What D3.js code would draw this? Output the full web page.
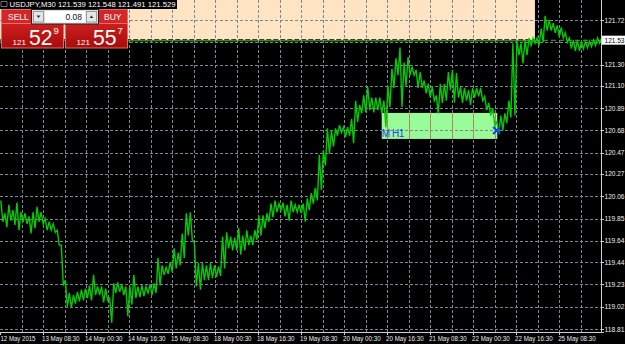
<!DOCTYPE html>
<html><head><meta charset="utf-8">
<script src="https://cdn.jsdelivr.net/npm/d3@7"></script>
<style>
html,body{margin:0;padding:0;background:#000;overflow:hidden}
svg{display:block}
text{font-family:"Liberation Sans",Arial,sans-serif}
</style></head><body>
<svg id="c" width="625" height="344"></svg>
<script>
// ---------------- data ----------------
const symbol = "USDJPY,M30";
const ohlc = [121.539, 121.548, 121.491, 121.529];
const bidPrice = 121.529;
const sellPrice = ["121", "52", "9"];
const buyPrice = ["121", "55", "7"];
const lotSize = "0.08";

const priceTicks = [118.81,119.02,119.23,119.44,119.64,119.85,120.06,120.27,120.47,120.68,120.89,121.10,121.30,121.51,121.72];
const timeLabels = ["12 May 2015","13 May 08:30","14 May 00:30","14 May 16:30","15 May 08:30","18 May 00:30","18 May 16:30","19 May 08:30","20 May 00:30","20 May 16:30","21 May 08:30","22 May 00:30","22 May 16:30","25 May 08:30"];
const barsPerLabel = 32;   // M30 bars between labels (16 hours)
const barsPerGrid = 16;
const totalBars = 447;
const barsPerStep = 3;     // each high/low pair below covers 3 bars

const highs = [120.02,119.90,119.98,119.93,120.00,119.91,119.90,119.87,119.91,119.96,119.91,119.85,119.82,119.80,119.74,119.60,119.27,119.15,119.13,119.16,
119.18,119.19,119.22,119.32,119.21,119.21,119.19,119.10,119.24,119.25,119.23,119.21,119.22,119.32,119.21,119.22,119.21,119.23,119.24,119.48,
119.41,119.39,119.44,119.57,119.53,119.71,119.90,119.91,119.62,119.43,119.43,119.41,119.43,119.41,119.40,119.68,119.72,119.68,119.67,119.76,
119.69,119.74,119.69,119.74,119.88,119.88,119.90,119.99,120.02,119.99,120.00,119.98,120.02,119.98,119.98,119.99,120.04,120.09,120.14,120.45,
120.49,120.70,120.68,120.70,120.73,120.71,120.71,120.79,120.96,120.92,121.01,121.09,120.99,120.99,120.99,120.96,121.10,121.26,121.36,121.46,
121.32,121.37,121.28,121.25,121.23,121.15,121.12,121.09,121.01,121.12,121.12,121.23,121.25,121.22,121.09,121.08,121.06,121.08,121.08,121.08,
121.00,120.94,120.89,120.76,120.82,120.84,120.96,121.50,121.53,121.50,121.53,121.55,121.55,121.55,121.64,121.76,121.72,121.69,121.67,121.65,
121.60,121.55,121.53,121.53,121.51,121.52,121.52,121.53,121.55,121.55];
const lows = [119.82,119.77,119.83,119.79,119.74,119.82,119.80,119.71,119.76,119.82,119.80,119.74,119.74,119.72,119.60,119.22,119.02,119.01,119.05,119.07,
119.08,119.10,119.08,119.13,119.13,119.06,119.08,118.87,119.15,119.16,119.13,118.93,119.04,119.10,119.11,119.12,119.15,119.13,119.15,119.22,
119.32,119.33,119.35,119.38,119.41,119.48,119.69,119.65,119.21,119.18,119.27,119.27,119.29,119.30,119.31,119.38,119.57,119.55,119.55,119.51,
119.55,119.60,119.60,119.65,119.69,119.76,119.82,119.86,119.91,119.93,119.87,119.83,119.91,119.91,119.90,119.82,119.93,119.99,120.02,120.12,
120.35,120.46,120.53,120.63,120.66,120.62,120.63,120.56,120.76,120.84,120.85,120.87,120.85,120.87,120.84,120.71,120.90,121.08,121.20,120.90,
121.10,121.20,121.20,121.08,121.08,121.03,120.99,120.96,120.84,120.94,120.96,121.06,120.94,120.99,120.94,120.96,120.92,120.99,121.00,120.96,
120.87,120.82,120.73,120.66,120.68,120.75,120.80,120.82,121.39,121.31,121.39,121.48,121.50,121.48,121.51,121.62,121.62,121.60,121.56,121.55,
121.51,121.45,121.43,121.43,121.45,121.46,121.47,121.48,121.50,121.53];

// chart objects (time in bars, price)
const bisqueZone = {t0: -5, t1: 398, p0: 121.531, p1: 122.5};
const greenZone = {t0: 284, t1: 370, p0: 120.60, p1: 120.845, label: "M H1"};
const crossMark = {t: 369.5, p: 120.68};

// ---------------- drawing ----------------
const W = 625, H = 344;
const plotR = 601, plotB = 332;
const svg = d3.select("#c");
svg.append("rect").attr("width", W).attr("height", H).attr("fill", "#000");

const x = d3.scaleLinear().domain([0, totalBars]).range([0, 600.8]);
const y = d3.scaleLinear().domain([118.81, 121.72]).range([329, 20]);
const fmt = d3.format(".2f");
const gridCol = "#778899";

const defs = svg.append("defs");
defs.append("clipPath").attr("id", "plotclip").append("rect")
  .attr("x", 0).attr("y", 0).attr("width", plotR).attr("height", plotB);
const g = svg.append("g").attr("clip-path", "url(#plotclip)");

// background objects
g.append("rect").attr("x", x(bisqueZone.t0)).attr("y", y(bisqueZone.p1))
  .attr("width", x(bisqueZone.t1) - x(bisqueZone.t0))
  .attr("height", y(bisqueZone.p0) - y(bisqueZone.p1)).attr("fill", "#FFE4C4");
g.append("rect").attr("x", x(greenZone.t0)).attr("y", y(greenZone.p1))
  .attr("width", x(greenZone.t1) - x(greenZone.t0))
  .attr("height", y(greenZone.p0) - y(greenZone.p1)).attr("fill", "#98FB98");

// grid
const vGrid = d3.range(barsPerGrid, totalBars, barsPerGrid);
g.selectAll(".vg").data(vGrid).join("line")
  .attr("x1", d => Math.round(x(d)) + 0.5).attr("x2", d => Math.round(x(d)) + 0.5)
  .attr("y1", 0).attr("y2", plotB)
  .attr("stroke", gridCol).attr("stroke-width", 1).attr("stroke-dasharray", "3,2");
// grid lines crossing the green zone appear orange
g.selectAll(".vgo").data(vGrid.filter(d => d > greenZone.t0 && d < greenZone.t1)).join("line")
  .attr("x1", d => Math.round(x(d)) + 0.5).attr("x2", d => Math.round(x(d)) + 0.5)
  .attr("y1", y(greenZone.p1)).attr("y2", y(greenZone.p0))
  .attr("stroke", "#e8803a").attr("stroke-width", 1).attr("stroke-dasharray", "3,2");
g.selectAll(".hg").data(priceTicks).join("line")
  .attr("x1", 0).attr("x2", plotR)
  .attr("y1", d => Math.round(y(d)) + 0.5).attr("y2", d => Math.round(y(d)) + 0.5)
  .attr("stroke", gridCol).attr("stroke-width", 1).attr("stroke-dasharray", "3,2");

// zone bottom edge + bid line
g.append("line").attr("x1", x(bisqueZone.t0)).attr("x2", x(bisqueZone.t1))
  .attr("y1", y(bidPrice) + 0.5).attr("y2", y(bidPrice) + 0.5)
  .attr("stroke", "#33cc33").attr("stroke-width", 1);
g.append("line").attr("x1", x(bisqueZone.t0)).attr("x2", x(bisqueZone.t1))
  .attr("y1", y(bidPrice) - 0.7).attr("y2", y(bidPrice) - 0.7)
  .attr("stroke", "#3a2a1a").attr("stroke-width", 1).attr("stroke-dasharray", "5,2");
g.append("line").attr("x1", x(bisqueZone.t1)).attr("x2", plotR)
  .attr("y1", y(bidPrice)).attr("y2", y(bidPrice))
  .attr("stroke", "#33bb33").attr("stroke-width", 1).attr("stroke-dasharray", "5,3");

// price line (high/low zigzag)
const pts = [];
highs.forEach((h, k) => {
  pts.push([barsPerStep * k + 0.6, h]);
  pts.push([barsPerStep * k + 2.1, lows[k]]);
});
const line = d3.line().x(d => x(d[0])).y(d => y(d[1]));
g.append("path").datum(pts).attr("d", line)
  .attr("fill", "none").attr("stroke", "#00cc00").attr("stroke-width", 1.4)
  .attr("stroke-linejoin", "miter");

// zone label and cross
g.append("text").attr("x", x(greenZone.t0)).attr("y", y(greenZone.p0) - 2)
  .attr("font-size", 10).attr("letter-spacing", -0.4).attr("fill", "#2244ee").text(greenZone.label);
const cx = x(crossMark.t), cy = y(crossMark.p);
g.append("path").attr("d", `M${cx-3.5},${cy-3.5}L${cx+3.5},${cy+3.5}M${cx-3.5},${cy+3.5}L${cx+3.5},${cy-3.5}`)
  .attr("stroke", "#1a3cf0").attr("stroke-width", 2);

// axes
svg.append("line").attr("x1", plotR + 0.5).attr("x2", plotR + 0.5).attr("y1", 0).attr("y2", plotB + 1)
  .attr("stroke", "#d0d0d0");
svg.append("line").attr("x1", 0).attr("x2", plotR + 3).attr("y1", plotB + 0.5).attr("y2", plotB + 0.5)
  .attr("stroke", "#d0d0d0");
const yBid = y(bidPrice);
const pt = svg.append("g");
pt.selectAll("line").data(priceTicks).join("line")
  .attr("x1", plotR).attr("x2", plotR + 3)
  .attr("y1", d => Math.round(y(d)) + 0.5).attr("y2", d => Math.round(y(d)) + 0.5)
  .attr("stroke", "#d0d0d0");
pt.selectAll("text").data(priceTicks.filter(d => Math.abs(y(d) - yBid) > 8)).join("text")
  .attr("x", 604.5).attr("y", d => y(d) + 2.5)
  .attr("font-size", 6.8).attr("fill", "#eeeeee")
  .attr("textLength", 20).attr("lengthAdjust", "spacingAndGlyphs").text(d => fmt(d));
svg.append("rect").attr("x", 602).attr("y", yBid - 4.6).attr("width", 23).attr("height", 9).attr("fill", "#fff");
svg.append("text").attr("x", 604.5).attr("y", yBid + 2.5).attr("font-size", 6.8).attr("fill", "#000")
  .attr("textLength", 20).attr("lengthAdjust", "spacingAndGlyphs").text(fmt(bidPrice));

const tl = svg.append("g");
tl.selectAll("line").data(timeLabels).join("line")
  .attr("x1", (d, i) => Math.round(x(i * barsPerLabel)) + 0.5).attr("x2", (d, i) => Math.round(x(i * barsPerLabel)) + 0.5)
  .attr("y1", plotB).attr("y2", plotB + 3).attr("stroke", "#d0d0d0");
tl.selectAll("text").data(timeLabels).join("text")
  .attr("x", (d, i) => Math.max(0.5, x(i * barsPerLabel) - 1)).attr("y", 341)
  .attr("font-size", 7).attr("fill", "#eeeeee")
  .attr("textLength", (d, i) => i === 0 ? 35 : 37.5).attr("lengthAdjust", "spacingAndGlyphs")
  .text(d => d);

// title
svg.append("rect").attr("x", 0).attr("y", 0).attr("width", 177).attr("height", 9).attr("fill", "#000");
svg.append("path").attr("d", "M1,1.5h6v5h-6z").attr("fill", "none").attr("stroke", "#888").attr("stroke-width", 0.8);
svg.append("text").attr("x", 9.5).attr("y", 7.3).attr("font-size", 7).attr("fill", "#fff")
  .attr("textLength", 166).attr("lengthAdjust", "spacingAndGlyphs")
  .text(symbol + " " + ohlc.map(d => d3.format(".3f")(d)).join(" "));

// one-click trading panel
const grad = defs.append("linearGradient").attr("id", "redg").attr("x1", 0).attr("y1", 0).attr("x2", 0).attr("y2", 1);
grad.append("stop").attr("offset", "0%").attr("stop-color", "#e02a2a");
grad.append("stop").attr("offset", "100%").attr("stop-color", "#a80c0c");
const panel = svg.append("g");
[[1.5, sellPrice, "SELL", 8], [65.5, buyPrice, "BUY", 104]].forEach(([bx, pr, lbl, lx]) => {
  panel.append("rect").attr("x", bx).attr("y", 9.5).attr("width", 62).attr("height", 38.5)
    .attr("fill", "url(#redg)").attr("stroke", "#e76a6a");
  panel.append("rect").attr("x", bx + 0.5).attr("y", 10).attr("width", 61).attr("height", 13)
    .attr("fill", "#d42626");
  panel.append("line").attr("x1", bx).attr("x2", bx + 62).attr("y1", 23.5).attr("y2", 23.5).attr("stroke", "#e86e6e");
  panel.append("text").attr("x", lx).attr("y", 20).attr("font-size", 8.5).attr("fill", "#fff").text(lbl);
  panel.append("text").attr("x", bx + 11).attr("y", 45).attr("font-size", 8).attr("fill", "#fff").text(pr[0]);
  panel.append("text").attr("x", bx + 27.5).attr("y", 45).attr("font-size", 22).attr("fill", "#fff")
    .attr("textLength", 23.5).attr("lengthAdjust", "spacingAndGlyphs").text(pr[1]);
  panel.append("text").attr("x", bx + 52).attr("y", 34).attr("font-size", 9.5).attr("fill", "#fff").text(pr[2]);
});
panel.append("rect").attr("x", 31.5).attr("y", 9.5).attr("width", 67).attr("height", 14.5)
  .attr("fill", "#dcdcdc").attr("stroke", "#222");
panel.append("rect").attr("x", 33.5).attr("y", 11.5).attr("width", 10).attr("height", 10.5)
  .attr("fill", "#e6e6e6").attr("stroke", "#9a9a9a");
panel.append("rect").attr("x", 86.5).attr("y", 11.5).attr("width", 10).attr("height", 10.5)
  .attr("fill", "#e6e6e6").attr("stroke", "#9a9a9a");
panel.append("rect").attr("x", 45).attr("y", 11).attr("width", 40.5).attr("height", 11.5).attr("fill", "#fff");
panel.append("path").attr("d", "M36.5,15.5h4l-2,2.5z").attr("fill", "#334");
panel.append("path").attr("d", "M89.5,18h4l-2,-2.5z").attr("fill", "#334");
panel.append("text").attr("x", 82).attr("y", 20).attr("text-anchor", "end").attr("font-size", 8.5)
  .attr("fill", "#111").text(lotSize);
</script>
</body></html>
